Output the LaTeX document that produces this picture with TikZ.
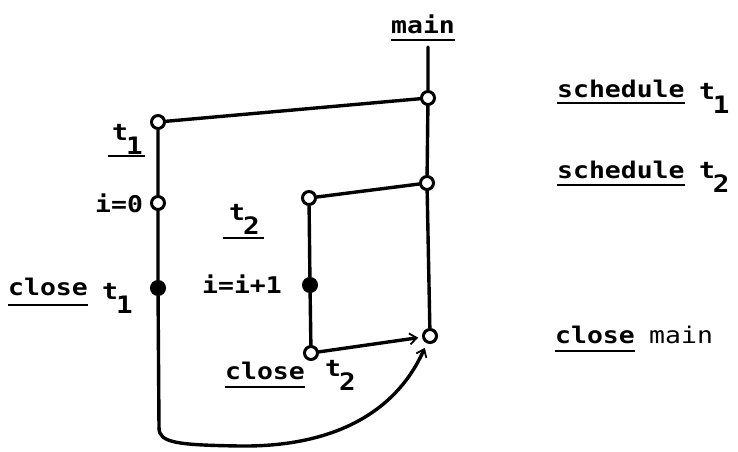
\documentclass[tikz,border=0pt]{standalone}
\usepackage{fontspec}
\newfontfamily\typefont[FakeStretch=1.15]{DejaVu Sans Mono}
\usetikzlibrary{arrows.meta}
\newcommand{\sbs}[1]{\kern-2pt\raisebox{-14pt}{\fontsize{24}{26}\selectfont #1}}
\tikzset{
  x=1pt, y=-1pt,
  wire/.style={line width=3.4pt, line cap=round, line join=round},
  dot/.style={circle, draw, line width=3pt, fill=white, minimum size=13pt, inner sep=0pt},
  fdot/.style={dot, fill=black},
  lbl/.style={anchor=base west, inner sep=0pt, font=\typefont\bfseries\fontsize{23}{28}\selectfont},
  ul/.style={line width=2.6pt},
  tip/.style={-{Straight Barb[length=7pt,width=11pt,line width=1.8pt]}}
}
\begin{document}
\begin{tikzpicture}
\useasboundingbox (0,0) rectangle (738,451);
% labels
\node[lbl] (mainlbl) at (391,33) {main};
\draw[ul] ([yshift=-7pt]mainlbl.base west) -- ([yshift=-7pt]mainlbl.base east);
\node[lbl] (t1lbl) at (112,140) {t\sbs{1}};
\draw[ul] ([xshift=-4pt,yshift=-16pt]t1lbl.base west) -- ([xshift=2pt,yshift=-16pt]t1lbl.base east);
\node[lbl] (i0lbl) at (95,212) {i=0};
\node[lbl] (cl1) at (8,295) {close};
\draw[ul] ([yshift=-10pt]cl1.base west) -- ([yshift=-10pt]cl1.base east);
\node[lbl] (cl1t) at ([xshift=14pt,yshift=-4pt]cl1.base east) {t\sbs{1}};
\node[lbl] (t2lbl) at (229,220) {t\sbs{2}};
\draw[ul] ([xshift=-6pt,yshift=-18pt]t2lbl.base west) -- ([xshift=4pt,yshift=-18pt]t2lbl.base east);
\node[lbl] (iilbl) at (202,293) {i=i+1};
\node[lbl] (cl2) at (225,379) {close};
\draw[ul] ([yshift=-8pt]cl2.base west) -- ([yshift=-8pt]cl2.base east);
\node[lbl] (cl2t) at ([xshift=20pt,yshift=3pt]cl2.base east) {t\sbs{2}};
\node[lbl] (sch1) at (557,97) {schedule};
\draw[ul] ([yshift=-6pt]sch1.base west) -- ([yshift=-6pt]sch1.base east);
\node[lbl] (sch1t) at ([xshift=14pt,yshift=-2pt]sch1.base east) {t\sbs{1}};
\node[lbl] (sch2) at (557,178) {schedule};
\draw[ul] ([yshift=-7pt]sch2.base west) -- ([yshift=-7pt]sch2.base east);
\node[lbl] (sch2t) at ([xshift=14pt]sch2.base east) {t\sbs{2}};
\node[lbl] (clm) at (555,343) {close};
\draw[ul] ([yshift=-8pt]clm.base west) -- ([yshift=-8pt]clm.base east);
\node[lbl, font=\typefont\fontsize{23}{28}\selectfont] (clmt) at ([xshift=14pt]clm.base east) {main};
% points
\coordinate (mtop) at (428,47);
\coordinate (bend) at (159,428);
\node[dot] (m1) at (428,98) {};
\node[dot] (m2) at (427,183) {};
\node[dot] (m3) at (430,336) {};
\node[dot] (t1) at (158,122) {};
\node[dot] (i0) at (158,203) {};
\node[fdot] (c1) at (158,288) {};
\node[dot] (t2) at (309,198) {};
\node[fdot] (ii) at (310,285) {};
\node[dot] (c2) at (311,353) {};
% connectors
\draw[wire] (mtop) -- (m1) -- (m2) -- (m3);
\draw[wire] (t1) -- (m1);
\draw[wire] (t2) -- (m2);
\draw[wire] (t1) -- (i0) -- (c1) -- (bend);
\draw[wire] (t2) -- (ii) -- (c2);
\draw[wire, tip, shorten >=4pt] (c2) -- (m3);
\draw[wire, tip, shorten >=5pt] (bend) .. controls (159,443) and (178,445) .. (240,446)
  .. controls (330,447) and (395,415) .. (m3);
\end{tikzpicture}
\end{document}
